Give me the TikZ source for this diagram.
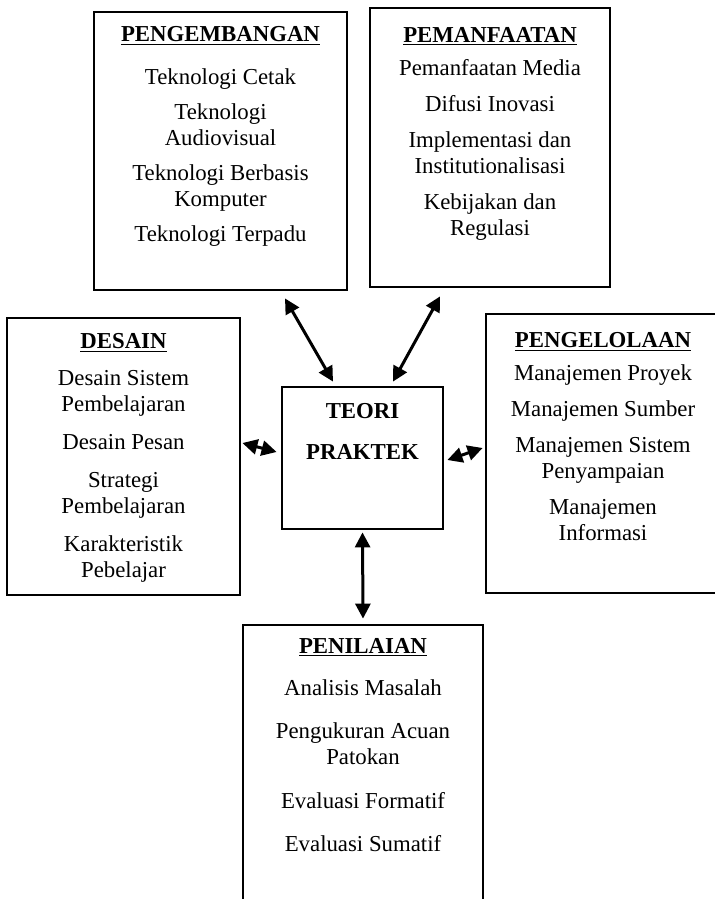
\documentclass[tikz,border=0pt]{standalone}
\usepackage{fontspec}
\setmainfont{Liberation Serif}
\usetikzlibrary{arrows.meta}
\newcommand{\judul}[1]{\textbf{\underline{#1}}}
\tikzset{
  kotak/.style={draw=black, line width=1.4pt, inner sep=0pt},
  isi/.style={align=center, inner sep=0pt, anchor=north, font=\fontsize{11.4}{13}\selectfont},
  panah/.style={{Triangle[length=7.5pt,width=7.5pt]}-{Triangle[length=7.5pt,width=7.5pt]}, line width=1.5pt}
}

\begin{document}
\begin{tikzpicture}[x=0.5pt, y=-0.5pt]
  \useasboundingbox (0,0) rectangle (715,899);
  \clip (0,0) rectangle (715,899);
  \fill[white] (0,0) rectangle (715,899);

  % kotak
  \node[kotak, minimum width=126.5pt, minimum height=139pt] (peng) at (220.5,151) {};
  \node[kotak, minimum width=120pt, minimum height=139.5pt] (pem) at (490,147.5) {};
  \node[kotak, minimum width=116.5pt, minimum height=138.5pt] (desain) at (123.5,456.5) {};
  \node[kotak, minimum width=80.5pt, minimum height=71pt] (teori) at (362.5,458) {};
  \node[kotak, minimum width=117pt, minimum height=139.5pt] (kelola) at (603,453.5) {};
  \node[kotak, minimum width=120pt, minimum height=140pt] (nilai) at (363,765) {};

  % isi kotak
  \node[isi] (pengisi) at ([yshift=-7.5pt]peng.north)
    {\judul{PENGEMBANGAN}\\[8.5pt]
     Teknologi Cetak\\[4.5pt]
     Teknologi\\Audiovisual\\[4.5pt]
     Teknologi Berbasis\\Komputer\\[4.5pt]
     Teknologi Terpadu};
  \node[isi] (pemisi) at ([yshift=-10pt]pem.north)
    {\judul{PEMANFAATAN}\\[3.5pt]
     Pemanfaatan Media\\[5pt]
     Difusi Inovasi\\[5pt]
     Implementasi dan\\Institutionalisasi\\[5pt]
     Kebijakan dan\\Regulasi};
  \node[isi] (desainisi) at ([yshift=-8pt]desain.north)
    {\judul{DESAIN}\\[5.5pt]
     Desain Sistem\\Pembelajaran\\[6pt]
     Desain Pesan\\[6pt]
     Strategi\\Pembelajaran\\[6pt]
     Karakteristik\\Pebelajar};
  \node[isi] (teoriisi) at ([yshift=-8.5pt]teori.north)
    {\textbf{TEORI}\\[7.5pt]\textbf{PRAKTEK}};
  \node[isi] (kelolaisi) at ([yshift=-9.5pt]kelola.north)
    {\judul{PENGELOLAAN}\\[3.5pt]
     Manajemen Proyek\\[5pt]
     Manajemen Sumber\\[5pt]
     Manajemen Sistem\\Penyampaian\\[5pt]
     Manajemen\\Informasi};
  \node[isi] (nilaiisi) at ([yshift=-7pt]nilai.north)
    {\judul{PENILAIAN}\\[8pt]
     Analisis Masalah\\[8.75pt]
     Pengukuran Acuan\\Patokan\\[8.75pt]
     Evaluasi Formatif\\[8.75pt]
     Evaluasi Sumatif};

  % panah
  \draw[panah] ([xshift=32.25pt,yshift=-3.5pt]peng.south) -- ([xshift=-14.75pt,yshift=2pt]teori.north);
  \draw[panah] ([xshift=-25pt,yshift=-4pt]pem.south) -- ([xshift=15.25pt,yshift=2pt]teori.north);
  \draw[panah] ([xshift=0.5pt,yshift=6.75pt]desain.east) -- ([xshift=-2pt,yshift=3pt]teori.west);
  \draw[panah] ([xshift=1.5pt,yshift=-1pt]teori.east) -- ([xshift=-1pt,yshift=2.75pt]kelola.west);
  \draw[panah] ([yshift=-1pt]teori.south) -- ([yshift=2.5pt]nilai.north);
\end{tikzpicture}
\end{document}
